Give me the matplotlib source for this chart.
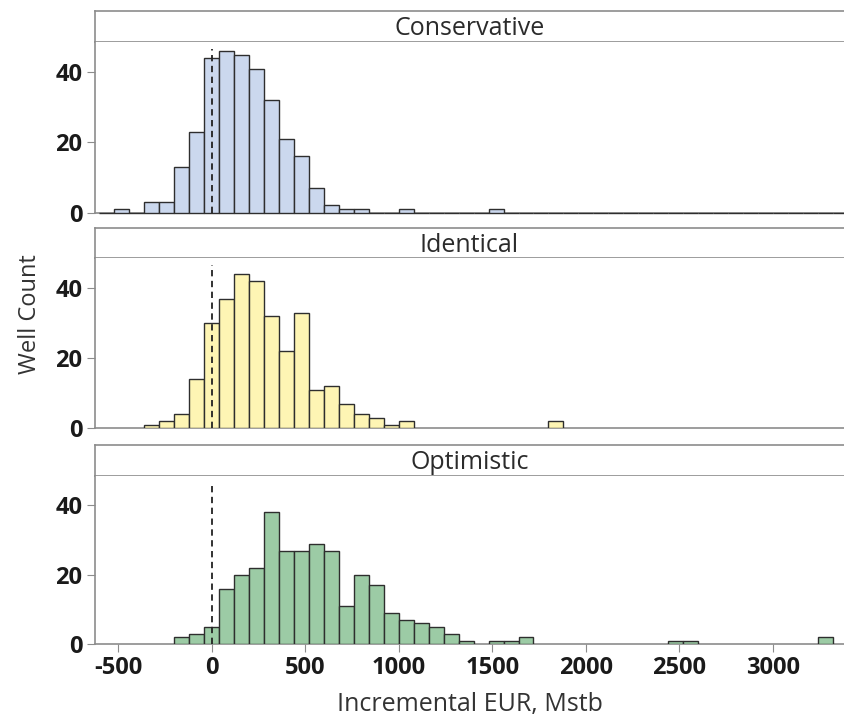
import numpy as np
import matplotlib
matplotlib.use('Agg')
import matplotlib.pyplot as plt

plt.rcParams['font.family'] = ['Open Sans', 'DejaVu Sans']

# histogram data (bin width 80, centred on multiples of 80)
bin_w = 80
titles = ['Conservative', 'Identical', 'Optimistic']

cons_mid = [-480, -320, -240, -160, -80, 0, 80, 160, 240, 320, 400, 480, 560, 640, 720, 800, 1040, 1520]
cons_n = [1, 3, 3, 13, 23, 44, 46, 45, 41, 32, 21, 16, 7, 2, 1, 1, 1, 1]

ident_mid = [-320, -240, -160, -80, 0, 80, 160, 240, 320, 400, 480, 560, 640, 720, 800, 880, 960, 1040, 1840]
ident_n = [1, 2, 4, 14, 30, 37, 44, 42, 32, 22, 33, 11, 12, 7, 4, 3, 1, 2, 2]

opt_mid = [-160, -80, 0, 80, 160, 240, 320, 400, 480, 560, 640, 720, 800, 880, 960,
           1040, 1120, 1200, 1280, 1360, 1520, 1600, 1680, 2480, 2560, 3280]
opt_n = [2, 3, 5, 16, 20, 22, 38, 27, 27, 29, 27, 11, 20, 17, 9,
         7, 6, 5, 3, 1, 1, 1, 2, 1, 1, 2]

xticks = [-500, 0, 500, 1000, 1500, 2000, 2500, 3000]
yticks = [0, 20, 40]

colors = ['#cbd8ee', '#fef5b4', '#9ccba5']
data = [(cons_mid, cons_n), (ident_mid, ident_n), (opt_mid, opt_n)]

W, H = 844, 725
fig = plt.figure(figsize=(W / 100, H / 100), dpi=100)

# pixel layout: (strip top, plot top, plot bottom)
rows = [(11, 42, 212.5), (228, 258.3, 428.3), (445, 475.7, 644)]
left_px, right_px = 95, 844

spine_c = '#8c8c8c'
tick_font = dict(size=17, weight='bold', color='#1a1a1a')

for i, (top, ptop, pbot) in enumerate(rows):
    # strip
    sax = fig.add_axes([left_px / W, 1 - ptop / H, (right_px - left_px) / W, (ptop - top) / H])
    sax.set_xticks([])
    sax.set_yticks([])
    for s in ['top', 'bottom', 'left']:
        sax.spines[s].set_color(spine_c)
        sax.spines[s].set_linewidth(1.2)
    sax.spines['right'].set_visible(False)
    sax.text(0.5, 0.42, titles[i], transform=sax.transAxes, ha='center', va='center',
             fontsize=18, color='#2b2b2b')

    ax = fig.add_axes([left_px / W, 1 - pbot / H, (right_px - left_px) / W, (pbot - ptop) / H])
    mid, n = data[i]
    if i == 0:
        # conservative panel draws every bin, empty ones show as a dark baseline
        all_mid = np.arange(-560, 3361, bin_w)
        full = np.zeros(len(all_mid))
        for m, c in zip(mid, n):
            full[list(all_mid).index(m)] = c
        ax.bar(all_mid, full, width=bin_w, color=colors[i], edgecolor='#2e2e2e',
               linewidth=1.0, zorder=3, clip_on=False)
    else:
        ax.bar(mid, n, width=bin_w, color=colors[i], edgecolor='#2e2e2e', linewidth=1.0, zorder=3)

    ax.axvline(0, ymin=0, ymax=0.96, color='#222222', linestyle=(0, (3.5, 2.5)),
               linewidth=1.3, zorder=4)

    ax.set_xlim(-624, 3380)
    ax.set_ylim(0, 48.6)
    ax.set_yticks(yticks)
    ax.set_yticklabels([str(v) for v in yticks], **tick_font)
    ax.spines['right'].set_visible(False)
    ax.spines['top'].set_visible(False)
    for s in ['left', 'bottom']:
        ax.spines[s].set_color(spine_c)
        ax.spines[s].set_linewidth(1.2)
    ax.tick_params(axis='y', length=6, color=spine_c, pad=3)
    if i == 2:
        ax.set_xticks(xticks)
        ax.set_xticklabels([str(v) for v in xticks], **tick_font)
        ax.tick_params(axis='x', length=6, color=spine_c, pad=3)
        ax.set_xlabel('Incremental EUR, Mstb', fontsize=18, color='#333333', labelpad=8)
    else:
        ax.set_xticks([])

fig.text(30 / W, 1 - 314 / H, 'Well Count', rotation=90, ha='center', va='center',
         fontsize=17, color='#333333')

fig.savefig('out.png', dpi=100)
